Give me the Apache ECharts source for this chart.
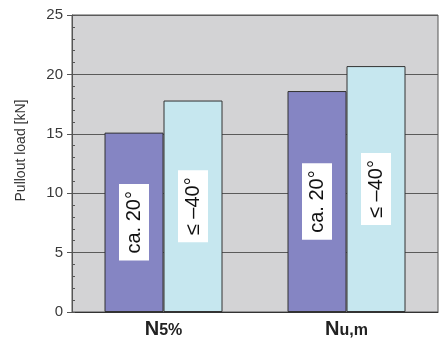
<!DOCTYPE html>
<html>
<head>
<meta charset="utf-8">
<script src="https://cdn.jsdelivr.net/npm/echarts@6/dist/echarts.min.js"></script>
<style>
  html, body { margin: 0; padding: 0; background: #fff; }
  #chart { width: 443px; height: 344px; }
</style>
</head>
<body>
<div id="chart"></div>
<script>
// data
const categories = ["N5%", "Nu,m"];
const angle20 = [15.1, 18.6];
const angle40 = [17.8, 20.7];
const seriesNames = ["ca. 20°", "≤ –40°"];
const yTicks = [0, 5, 10, 15, 20, 25];

var myChart = echarts.init(document.getElementById("chart"));

function barLabel(text) {
  return {
    show: true,
    position: "inside",
    rotate: 90,
    formatter: text,
    color: "#111",
    fontFamily: "Liberation Sans",
    fontSize: 20,
    backgroundColor: "#fff",
    padding: [6, 7, 4, 7]
  };
}

myChart.setOption({
  animation: false,
  grid: {
    left: 72,
    top: 15,
    right: 5,
    bottom: 32,
    show: true,
    backgroundColor: "#d3d3d5",
    borderColor: "#555",
    borderWidth: 1
  },
  xAxis: {
    type: "category",
    data: categories,
    axisLine: { lineStyle: { color: "#333", width: 1 } },
    axisTick: { show: false },
    axisLabel: {
      margin: 5,
      formatter: function (v) {
        return "{n|N}{s|" + v.slice(1) + "}";
      },
      rich: {
        n: { fontFamily: "Liberation Sans", fontWeight: "bold", fontSize: 20, color: "#222", verticalAlign: "bottom", lineHeight: 22 },
        s: { fontFamily: "Liberation Sans", fontWeight: "bold", fontSize: 16, color: "#222", verticalAlign: "bottom", lineHeight: 20 }
      }
    }
  },
  yAxis: [
    {
      type: "value",
      min: yTicks[0],
      max: yTicks[yTicks.length - 1],
      interval: 5,
      name: "Pullout load [kN]",
      nameLocation: "middle",
      nameGap: 44,
      nameTextStyle: {
        fontFamily: "Liberation Sans",
        fontSize: 14,
        color: "#333",
        padding: [0, 0, 0, 26]
      },
      axisLine: { show: true, lineStyle: { color: "#555" } },
      axisTick: { show: true, length: 5, lineStyle: { color: "#555" } },
      axisLabel: {
        fontFamily: "Liberation Sans",
        fontSize: 15,
        color: "#3a3a3a",
        margin: 9
      },
      splitLine: { show: true, lineStyle: { color: "#5a5a5a", width: 1 } }
    },
    {
      // small ticks on the inside
      type: "value",
      position: "left",
      min: 0,
      max: 25,
      interval: 1,
      axisLine: { show: false },
      axisTick: { show: true, inside: true, length: 3, lineStyle: { color: "#555" } },
      axisLabel: { show: false },
      splitLine: { show: false }
    }
  ],
  series: [
    {
      name: seriesNames[0],
      type: "bar",
      data: angle20,
      barWidth: 59,
      barGap: "0%",
      itemStyle: { color: "#8585c3", borderColor: "#333", borderWidth: 1 },
      label: barLabel(seriesNames[0])
    },
    {
      name: seriesNames[1],
      type: "bar",
      data: angle40,
      barWidth: 59,
      barGap: "0%",
      itemStyle: { color: "#c6e7ef", borderColor: "#333", borderWidth: 1 },
      label: barLabel(seriesNames[1])
    }
  ]
});
</script>
</body>
</html>
